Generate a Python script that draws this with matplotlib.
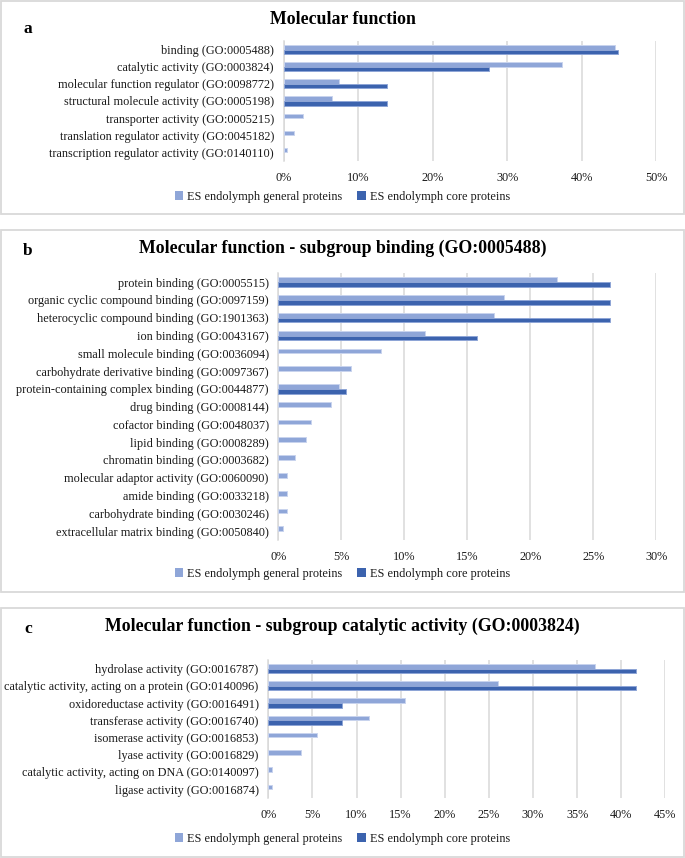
import numpy as np
import matplotlib
matplotlib.use("Agg")
import matplotlib.pyplot as plt
from matplotlib.patches import Rectangle, Patch

plt.rcParams['font.family'] = ['Liberation Serif', 'DejaVu Serif']

# ---------------- data ----------------
series_names = ["ES endolymph general proteins", "ES endolymph core proteins"]

a_title = "Molecular function"
a_cats = ["binding (GO:0005488)",
          "catalytic activity (GO:0003824)",
          "molecular function regulator (GO:0098772)",
          "structural molecule activity (GO:0005198)",
          "transporter activity (GO:0005215)",
          "translation regulator activity (GO:0045182)",
          "transcription regulator activity (GO:0140110)"]
a_general = [44.4, 37.4, 7.4, 6.5, 2.6, 1.35, 0.45]
a_core = [44.9, 27.6, 13.8, 13.8, 0, 0, 0]
a_ticks = [0, 10, 20, 30, 40, 50]

b_title = "Molecular function - subgroup binding (GO:0005488)"
b_cats = ["protein binding (GO:0005515)",
          "organic cyclic compound binding (GO:0097159)",
          "heterocyclic compound binding (GO:1901363)",
          "ion binding (GO:0043167)",
          "small molecule binding (GO:0036094)",
          "carbohydrate derivative binding (GO:0097367)",
          "protein-containing complex binding (GO:0044877)",
          "drug binding (GO:0008144)",
          "cofactor binding (GO:0048037)",
          "lipid binding (GO:0008289)",
          "chromatin binding (GO:0003682)",
          "molecular adaptor activity (GO:0060090)",
          "amide binding (GO:0033218)",
          "carbohydrate binding (GO:0030246)",
          "extracellular matrix binding (GO:0050840)"]
b_general = [22.1, 17.9, 17.1, 11.6, 8.15, 5.75, 4.8, 4.2, 2.55, 2.2, 1.3, 0.65, 0.65, 0.65, 0.35]
b_core = [26.3, 26.3, 26.3, 15.8, 0, 0, 5.35, 0, 0, 0, 0, 0, 0, 0, 0]
b_ticks = [0, 5, 10, 15, 20, 25, 30]

c_title = "Molecular function - subgroup catalytic activity (GO:0003824)"
c_cats = ["hydrolase activity (GO:0016787)",
          "catalytic activity, acting on a protein (GO:0140096)",
          "oxidoreductase activity (GO:0016491)",
          "transferase activity (GO:0016740)",
          "isomerase activity (GO:0016853)",
          "lyase activity (GO:0016829)",
          "catalytic activity, acting on DNA (GO:0140097)",
          "ligase activity (GO:0016874)"]
c_general = [37.0, 26.0, 15.5, 11.4, 5.5, 3.7, 0.45, 0.45]
c_core = [41.7, 41.7, 8.3, 8.3, 0, 0, 0, 0]
c_ticks = [0, 5, 10, 15, 20, 25, 30, 35, 40, 45]

# ---------------- style ----------------
W, H = 685, 858
LIGHT = "#8FA6D8"
DARK = "#3C63AE"
GRID = "#D9D9D9"
TXT = "#1a1a1a"
FS = 8.8

fig = plt.figure(figsize=(W / 100, H / 100), dpi=100)


def fx(x):
    return x / W


def fy(y):
    return 1 - y / H


def panel(box, ax_px, cats, gen, core, ticks, title, title_y, letter, letter_y, legend_y):
    # panel border
    x0, y0, x1, y1 = box
    fig.patches.append(Rectangle((fx(x0), fy(y1)), fx(x1) - fx(x0), fy(y0) - fy(y1),
                                 transform=fig.transFigure, fill=False,
                                 edgecolor=GRID, lw=1.3, zorder=0))
    l, t, r, b = ax_px
    ax = fig.add_axes([fx(l), fy(b), fx(r) - fx(l), fy(t) - fy(b)])
    n = len(cats)
    y = np.arange(n)
    bh = 0.265
    gen = np.array(gen, float)
    core = np.array(core, float)
    mg = gen > 0
    mc = core > 0
    ax.barh(y[mg] - bh / 2, gen[mg], height=bh, color=LIGHT,
            edgecolor="#c9d4ee", lw=0.7, zorder=3)
    ax.barh(y[mc] + bh / 2, core[mc], height=bh, color=DARK,
            edgecolor="#8ea5d6", lw=0.7, zorder=3)
    ax.set_ylim(n - 0.5, -0.5)
    ax.set_xlim(ticks[0], ticks[-1])
    ax.set_xticks(ticks)
    ax.set_xticklabels([f"{t}%" for t in ticks], fontsize=FS, color=TXT)
    ax.set_yticks(y)
    ax.set_yticklabels(cats, fontsize=FS, color=TXT)
    ax.tick_params(axis='both', length=0)
    ax.tick_params(axis='x', pad=8)
    ax.tick_params(axis='y', pad=7)
    ax.grid(axis='x', color=GRID, lw=1.1, zorder=0)
    for s in ['top', 'right', 'bottom']:
        ax.spines[s].set_visible(False)
    ax.spines['left'].set_color(GRID)
    ax.spines['left'].set_linewidth(1.1)
    ax.set_facecolor('none')
    fig.text(0.5, fy(title_y), title, ha='center', va='center',
             fontsize=12.8, fontweight='bold', color='black')
    fig.text(fx(28), fy(letter_y), letter, ha='center', va='center',
             fontsize=12.5, fontweight='bold', color='black')
    handles = [Patch(facecolor=LIGHT, edgecolor='none'),
               Patch(facecolor=DARK, edgecolor='none')]
    fig.legend(handles, series_names, loc='center', bbox_to_anchor=(0.5, fy(legend_y)),
               ncol=2, frameon=False, fontsize=FS, handlelength=0.7, handleheight=0.7,
               handletextpad=0.35, columnspacing=1.2, labelcolor=TXT)
    return ax


panel((1, 1, 683.5, 214), (283.7, 41, 656.3, 161), a_cats, a_general, a_core, a_ticks,
      a_title, 19, "a", 29, 197)
panel((1, 230, 683.5, 592.3), (278.4, 273.3, 656.3, 540), b_cats, b_general, b_core, b_ticks,
      b_title, 248, "b", 251, 574)
panel((1, 607.7, 683.5, 857), (268.3, 660, 665.3, 797.7), c_cats, c_general, c_core, c_ticks,
      c_title, 626, "c", 629, 839)

fig.savefig("out.png", dpi=100, facecolor='white')
